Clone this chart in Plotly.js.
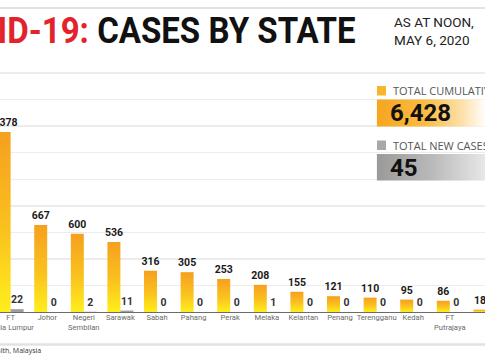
<!DOCTYPE html>
<html>
<head>
<meta charset="utf-8">
<script src="https://cdn.plot.ly/plotly-3.0.1.min.js"></script>
<style>
  html, body { margin: 0; padding: 0; background: #fff; overflow: hidden; }
  #chart { width: 485px; height: 360px; }
</style>
</head>
<body>
<div id="chart"></div>
<script>
// ---- data ----
const states = ['FT<br>Kuala Lumpur', 'Johor', 'Negeri<br>Sembilan', 'Sarawak', 'Sabah', 'Pahang',
  'Perak', 'Melaka', 'Kelantan', 'Penang', 'Terengganu', 'Kedah', 'FT<br>Putrajaya', 'Perlis'];
const cumulativeCases = [1378, 667, 600, 536, 316, 305, 253, 208, 155, 121, 110, 95, 86, 18];
const newCases = [22, 0, 2, 11, 0, 0, 0, 1, 0, 0, 0, 0, 0, 0];
const totalCumulative = '6,428';
const totalNew = '45';
const titleRed = 'COVID-19:';
const titleBlack = 'CASES BY STATE';
const dateLines = ['AS AT NOON,', 'MAY 6, 2020'];
const sourceText = 'Source: Ministry of Health, Malaysia';

// ---- geometry helpers (pixel -> paper) ----
const W = 485, PLOT_TOP = 71, PLOT_BOTTOM = 312, PH = PLOT_BOTTOM - PLOT_TOP;
const X = px => px / W;
const Y = py => (PLOT_BOTTOM - py) / PH;

function gradImg(stops) {
  const s = stops.map(st => `<stop offset="${st[0]}" stop-color="${st[1]}"/>`).join('');
  const svg = `<svg xmlns="http://www.w3.org/2000/svg" width="100" height="20" preserveAspectRatio="none"><defs><linearGradient id="g" x1="0" y1="0" x2="1" y2="0">${s}</linearGradient></defs><rect width="100" height="20" fill="url(#g)"/></svg>`;
  return 'data:image/svg+xml;charset=utf-8,' + encodeURIComponent(svg);
}

const traces = [
  {
    type: 'bar', x: states, y: cumulativeCases, name: 'Total cumulative',
    marker: { color: '#F9B224' },
    texttemplate: '%{y:,}', textposition: 'outside', constraintext: 'none',
    textfont: { family: 'Roboto', size: 10.5, weight: 'bold', color: '#1a1a1a' },
    hoverinfo: 'x+y'
  },
  {
    type: 'bar', x: states, y: newCases, name: 'Total new cases',
    marker: { color: '#9f9f9f' },
    texttemplate: '%{y}', textposition: 'outside', constraintext: 'none',
    textfont: { family: 'Roboto', size: 10.5, weight: 'bold', color: '#333' },
    hoverinfo: 'x+y'
  }
];

const layout = {
  width: 485, height: 360,
  margin: { l: 0, r: 0, t: PLOT_TOP, b: 360 - PLOT_BOTTOM, pad: 0 },
  paper_bgcolor: '#fff', plot_bgcolor: '#fff',
  showlegend: false,
  barmode: 'group', bargap: 0.29, bargroupgap: 0,
  font: { family: 'Roboto', color: '#333' },
  xaxis: {
    type: 'category', range: [-0.29, -0.29 + W / 36.6], automargin: false,
    showline: true, linecolor: '#6b6b6b', linewidth: 1,
    ticks: '', showgrid: false, zeroline: false,
    tickfont: { family: 'Roboto', size: 7.6, color: '#6a6a6a' },
    ticklabeloverflow: 'allow', tickangle: 0, ticklabelstandoff: -2
  },
  yaxis: {
    range: [0, PH / 0.1306], tick0: 0, dtick: 203.3,
    showticklabels: false, ticks: '', zeroline: false, automargin: false,
    showgrid: true, gridcolor: '#ececec', gridwidth: 1.5
  },
  shapes: [
    { type: 'line', xref: 'paper', yref: 'paper', x0: 0, x1: 1, y0: Y(8), y1: Y(8),
      line: { color: '#e2e2e2', width: 2 } },
    { type: 'line', xref: 'paper', yref: 'paper', x0: 0, x1: 1, y0: Y(344.5), y1: Y(344.5),
      line: { color: '#e2e2e2', width: 2.5 } },
    { type: 'rect', xref: 'paper', yref: 'paper', x0: X(377), x1: X(386), y0: Y(95.5), y1: Y(86),
      fillcolor: '#F9B52C', line: { width: 0 } },
    { type: 'rect', xref: 'paper', yref: 'paper', x0: X(377), x1: X(386), y0: Y(150), y1: Y(140.5),
      fillcolor: '#a8a8a8', line: { width: 0 } }
  ],
  images: [
    { source: gradImg([[0, '#F6A51F'], [0.45, '#F9BC45'], [0.8, '#FDE3B0'], [1, '#FFFFFF']]),
      xref: 'paper', yref: 'paper', x: X(376.7), y: Y(99.3), sizex: (486 - 376.7) / W, sizey: 27.4 / PH,
      xanchor: 'left', yanchor: 'top', sizing: 'stretch', layer: 'above' },
    { source: gradImg([[0, '#9a9a9a'], [0.5, '#b9b9b9'], [1, '#e8e8e8']]),
      xref: 'paper', yref: 'paper', x: X(376.7), y: Y(154), sizex: (486 - 376.7) / W, sizey: 26.7 / PH,
      xanchor: 'left', yanchor: 'top', sizing: 'stretch', layer: 'above' }
  ],
  annotations: [
    { xref: 'paper', yref: 'paper', x: X(358), y: Y(31), xanchor: 'right', yanchor: 'middle',
      showarrow: false,
      text: `<span style="color:#e2232b">${titleRed}</span> ${titleBlack}`,
      font: { family: 'Roboto', size: 36, weight: 'bold', color: '#111' } },
    { xref: 'paper', yref: 'paper', x: X(391.5), y: Y(31.5), xanchor: 'left', yanchor: 'middle',
      showarrow: false, align: 'left', text: dateLines.join('<br>'),
      font: { family: 'Roboto', size: 13.5, color: '#222' } },
    { xref: 'paper', yref: 'paper', x: X(390.5), y: Y(90.8), xanchor: 'left', yanchor: 'middle',
      showarrow: false, align: 'left', text: 'TOTAL CUMULATIVE CASES',
      font: { family: 'Open Sans', size: 11, color: '#555' } },
    { xref: 'paper', yref: 'paper', x: X(390.5), y: Y(145.3), xanchor: 'left', yanchor: 'middle',
      showarrow: false, align: 'left', text: 'TOTAL NEW CASES',
      font: { family: 'Open Sans', size: 11, color: '#555' } },
    { xref: 'paper', yref: 'paper', x: X(387.5), y: Y(113.3), xanchor: 'left', yanchor: 'middle',
      showarrow: false, text: totalCumulative,
      font: { family: 'Roboto', size: 24, weight: 'bold', color: '#111' } },
    { xref: 'paper', yref: 'paper', x: X(387.5), y: Y(167.5), xanchor: 'left', yanchor: 'middle',
      showarrow: false, text: totalNew,
      font: { family: 'Roboto', size: 24, weight: 'bold', color: '#111' } },
    { xref: 'paper', yref: 'paper', x: X(43), y: Y(350.5), xanchor: 'right', yanchor: 'middle',
      showarrow: false, text: sourceText,
      font: { family: 'Open Sans', size: 7, color: '#333' } }
  ]
};

Plotly.newPlot('chart', traces, layout, { staticPlot: true, displayModeBar: false }).then(gd => {
  const ns = 'http://www.w3.org/2000/svg';
  const svg = gd.querySelector('.main-svg');
  let defs = svg.querySelector('defs');
  if (!defs) { defs = document.createElementNS(ns, 'defs'); svg.prepend(defs); }
  const lg = document.createElementNS(ns, 'linearGradient');
  lg.setAttribute('id', 'cumGrad');
  lg.setAttribute('x1', '0'); lg.setAttribute('y1', '0'); lg.setAttribute('x2', '0'); lg.setAttribute('y2', '1');
  [['0', '#F5A01F'], ['0.55', '#FAC21E'], ['1', '#FFEE1C']].forEach(([o, c]) => {
    const st = document.createElementNS(ns, 'stop');
    st.setAttribute('offset', o); st.setAttribute('stop-color', c);
    lg.appendChild(st);
  });
  defs.appendChild(lg);
  const barTraces = gd.querySelectorAll('.barlayer .trace');
  if (barTraces[0]) {
    barTraces[0].querySelectorAll('.point path').forEach(p => { p.style.fill = 'url(#cumGrad)'; });
  }
  // condense the headline (reference uses a condensed bold face), anchored at its right edge
  const titleText = gd.querySelector('.annotation[data-index="0"] text.annotation-text');
  if (titleText) {
    const bb = titleText.getBBox();
    const right = bb.x + bb.width;
    titleText.setAttribute('transform', `translate(${right},0) scale(0.918,1) translate(${-right},0)`);
  }
});
</script>
</body>
</html>
